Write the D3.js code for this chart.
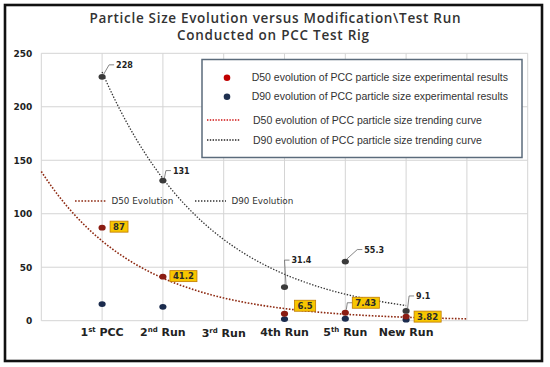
<!DOCTYPE html>
<html>
<head>
<meta charset="utf-8">
<script src="https://cdn.jsdelivr.net/npm/d3@7"></script>
<style>
  html, body { margin: 0; padding: 0; background: #fff; }
  svg { display: block; }
</style>
</head>
<body>
<svg id="chart"></svg>
<script>
// categories along the x axis (3rd Run has no measurement)
const categories = ['1st PCC', '2nd Run', '3rd Run', '4th Run', '5th Run', 'New Run'];
const supCategories = [true, true, true, false, true, false];

// D50 points (labelled in yellow boxes)
const d50Values = [87, 41.2, null, 6.5, 7.43, 3.82];
// D90 points (labelled in black)
const d90Values = [228, 131, null, 31.4, 55.3, 9.1];
// dark blue points near the axis
const baseValues = [15.5, 13, null, 1.5, 1.8, 1.0];

const yTicks = [0, 50, 100, 150, 200, 250];

const legendItems = [
  'D50 evolution of PCC particle size experimental results',
  'D90 evolution of PCC particle size experimental results',
  'D50 evolution of PCC particle size trending curve',
  'D90 evolution of PCC particle size trending curve'
];

const W = 550, H = 367;
const svg = d3.select('#chart').attr('width', W).attr('height', H);

const x = d3.scaleLinear().domain([0, 8]).range([41.3, 527.7]);
const y = d3.scaleLinear().domain([0, 250]).range([320.7, 53.3]);

// frame
svg.append('rect')
  .attr('x', 5).attr('y', 5).attr('width', 537).attr('height', 356)
  .attr('fill', '#fff').attr('stroke', '#111').attr('stroke-width', 2.6);

// title
const title = svg.append('text')
  .attr('text-anchor', 'middle')
  .style('font-family', '"Open Sans", sans-serif')
  .style('font-weight', 600)
  .style('font-size', '13.5px')
  .attr('fill', '#333');
title.append('tspan').attr('x', 275).attr('y', 23.3)
  .attr('textLength', 371).attr('lengthAdjust', 'spacing')
  .text('Particle Size Evolution versus Modification\\Test Run');
title.append('tspan').attr('x', 273).attr('y', 40)
  .attr('textLength', 192).attr('lengthAdjust', 'spacing')
  .text('Conducted on PCC Test Rig');

// grid
const grid = svg.append('g');
grid.selectAll('line.h')
  .data(yTicks)
  .enter().append('line')
  .attr('x1', x(0)).attr('x2', x(8))
  .attr('y1', d => y(d)).attr('y2', d => y(d))
  .attr('stroke', '#d4d4d4').attr('stroke-width', 1);
grid.selectAll('line.v')
  .data(d3.range(0, 9))
  .enter().append('line')
  .attr('x1', d => x(d)).attr('x2', d => x(d))
  .attr('y1', y(250)).attr('y2', y(0))
  .attr('stroke', '#d4d4d4').attr('stroke-width', 1);

// y axis labels
const yAxis = d3.axisLeft(y).tickValues(yTicks).tickSize(0).tickPadding(9);
svg.append('g')
  .attr('transform', `translate(${x(0)},0)`)
  .call(yAxis)
  .call(g => g.select('.domain').remove())
  .selectAll('text')
  .style('font-family', '"DejaVu Sans", sans-serif')
  .style('font-weight', 'bold')
  .style('font-size', '9px')
  .attr('fill', '#222');

// x axis labels
const xl = svg.append('g');
categories.forEach((c, i) => {
  const t = xl.append('text')
    .attr('x', x(i + 1)).attr('y', i === 2 ? 337 : 336)
    .attr('text-anchor', 'middle')
    .style('font-family', '"DejaVu Sans", sans-serif')
    .style('font-weight', 'bold')
    .style('font-size', '11px')
    .attr('fill', '#222');
  if (supCategories[i]) {
    const m = c.match(/^(\d)(st|nd|rd|th)(.*)$/);
    t.append('tspan').text(m[1]);
    t.append('tspan').attr('dy', -4).style('font-size', '7px').text(m[2]);
    t.append('tspan').attr('dy', 4).text(m[3]);
  } else {
    t.text(c);
  }
});

// exponential trend fitted on the points
function expFit(vals) {
  const pts = vals.map((v, i) => [i + 1, v]).filter(p => p[1] != null);
  const mx = d3.mean(pts, p => p[0]);
  const my = d3.mean(pts, p => Math.log(p[1]));
  const sxy = d3.sum(pts, p => (p[0] - mx) * (Math.log(p[1]) - my));
  const sxx = d3.sum(pts, p => (p[0] - mx) ** 2);
  const b = sxy / sxx;
  const a = Math.exp(my - b * mx);
  return t => a * Math.exp(b * t);
}
const f50 = expFit(d50Values);
const f90 = expFit(d90Values);
const line = d3.line().x(d => x(d[0])).y(d => y(d[1])).curve(d3.curveLinear);

svg.append('path')
  .datum(d3.range(0, 7.001, 0.05).map(t => [t, f50(t)]))
  .attr('d', line).attr('fill', 'none')
  .attr('stroke', '#8e2a12').attr('stroke-width', 1.6).attr('stroke-dasharray', '1.6,1.6');
svg.append('path')
  .datum(d3.range(1, 6.001, 0.05).map(t => [t, f90(t)]))
  .attr('d', line).attr('fill', 'none')
  .attr('stroke', '#333').attr('stroke-width', 1.3).attr('stroke-dasharray', '1.4,1.6');

// in-plot legend
const inLeg = svg.append('g')
  .style('font-family', '"DejaVu Sans", sans-serif')
  .style('font-size', '8.8px');
inLeg.append('line').attr('x1', 75).attr('x2', 106).attr('y1', 201).attr('y2', 201)
  .attr('stroke', '#8e2a12').attr('stroke-width', 1.6).attr('stroke-dasharray', '1.6,1.6');
inLeg.append('text').attr('x', 111.5).attr('y', 204).attr('fill', '#333').text('D50 Evolution');
inLeg.append('line').attr('x1', 195).attr('x2', 226).attr('y1', 201).attr('y2', 201)
  .attr('stroke', '#333').attr('stroke-width', 1.3).attr('stroke-dasharray', '1.4,1.6');
inLeg.append('text').attr('x', 231.5).attr('y', 204).attr('fill', '#333').text('D90 Evolution');

// points
function dots(vals, color) {
  svg.append('g').selectAll('ellipse')
    .data(vals.map((v, i) => ({ i, v })).filter(d => d.v != null))
    .enter().append('ellipse')
    .attr('cx', d => x(d.i + 1)).attr('cy', d => y(d.v))
    .attr('rx', 3.6).attr('ry', 2.9)
    .attr('fill', color);
}
dots(baseValues, '#1b2b4d');
dots(d90Values, '#3a3a3a');
dots(d50Values, '#8b1c12');

// black labels for D90 with leader lines
const d90Off = [[14, -12], [10, -10], [7, -27], [19, -12], [10, -15]];
const blk = svg.append('g');
d90Values.map((v, i) => ({ i, v })).filter(d => d.v != null).forEach((d, k) => {
  const px = x(d.i + 1), py = y(d.v);
  const [ox, oy] = d90Off[k];
  blk.append('polyline')
    .attr('points', `${px + 1.5},${py - 2.5} ${px + ox - 7},${py + oy} ${px + ox - 2},${py + oy}`)
    .attr('fill', 'none').attr('stroke', '#666').attr('stroke-width', 0.8);
  blk.append('text')
    .attr('x', px + ox).attr('y', py + oy + 3)
    .style('font-family', '"DejaVu Sans", sans-serif')
    .style('font-weight', 'bold')
    .style('font-size', '8px')
    .attr('fill', '#222')
    .text(d.v);
});

// yellow boxed labels for D50
const d50Off = [[8, -1], [7, -0.5], [10, -8], [7, -10], [8, 0]];
const ylw = svg.append('g');
d50Values.map((v, i) => ({ i, v })).filter(d => d.v != null).forEach((d, k) => {
  const px = x(d.i + 1), py = y(d.v);
  const [ox, oy] = d50Off[k];
  const g = ylw.append('g');
  if (k === 3) {
    g.append('polyline')
      .attr('points', `${px + 1},${py - 3} ${px + 2},${py + oy} ${px + ox},${py + oy}`)
      .attr('fill', 'none').attr('stroke', '#666').attr('stroke-width', 0.8);
  }
  const t = g.append('text')
    .attr('x', px + ox + 3).attr('y', py + oy + 3)
    .style('font-family', '"DejaVu Sans", sans-serif')
    .style('font-weight', 'bold')
    .style('font-size', '8.5px')
    .attr('fill', '#2a2a2a')
    .text(d.v);
  const bb = t.node().getBBox();
  g.insert('rect', 'text')
    .attr('x', bb.x - 3).attr('y', py + oy - 5.5)
    .attr('width', bb.width + 6).attr('height', 11)
    .attr('fill', '#f7c600').attr('stroke', '#c07a00').attr('stroke-width', 0.8);
});

// legend box
const leg = svg.append('g');
leg.append('rect')
  .attr('x', 202).attr('y', 59.5).attr('width', 320).attr('height', 98)
  .attr('fill', '#fff').attr('stroke', '#5b6b7b').attr('stroke-width', 1.5);
const legY = [77.7, 96.7, 120, 140];
leg.append('circle').attr('cx', 227).attr('cy', legY[0]).attr('r', 3.3).attr('fill', '#c00000');
leg.append('circle').attr('cx', 227).attr('cy', legY[1]).attr('r', 3.3).attr('fill', '#1f3050');
leg.append('line').attr('x1', 207).attr('x2', 240).attr('y1', legY[2]).attr('y2', legY[2])
  .attr('stroke', '#d01010').attr('stroke-width', 1.3).attr('stroke-dasharray', '1.4,1.4');
leg.append('line').attr('x1', 207).attr('x2', 240).attr('y1', legY[3]).attr('y2', legY[3])
  .attr('stroke', '#222').attr('stroke-width', 1.3).attr('stroke-dasharray', '1.4,1.4');
legendItems.forEach((s, i) => {
  leg.append('text')
    .attr('x', i < 2 ? 251.7 : 253).attr('y', legY[i] + 3.6)
    .style('font-family', '"Liberation Sans", Arial, sans-serif')
    .style('font-size', '10.5px')
    .attr('fill', '#333')
    .text(s);
});
</script>
</body>
</html>
